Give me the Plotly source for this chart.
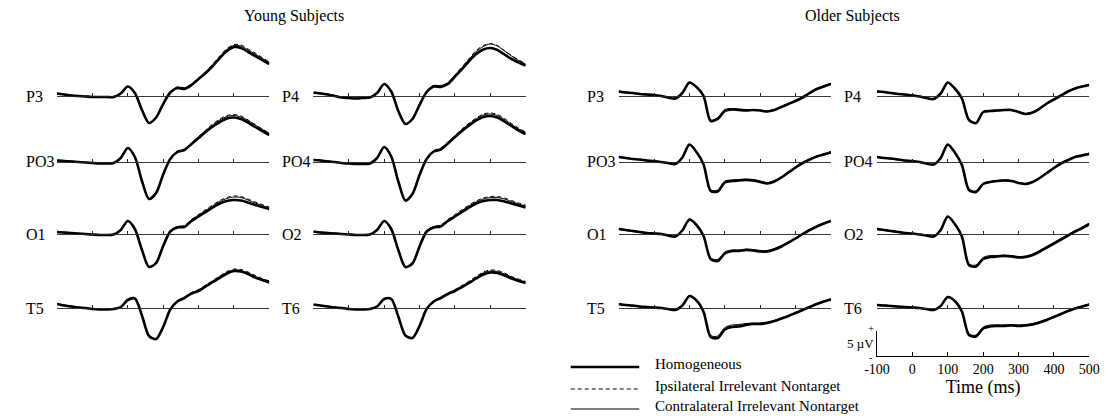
import plotly.graph_objects as go

# ---------------- data ----------------
TIME_MS = [-100, -80, -60, -40, -20, 0, 20, 40, 60, 80, 100, 120, 140, 160, 180, 200,
           220, 240, 260, 280, 300, 320, 340, 360, 380, 400, 420, 440, 460, 480, 500]
TICK_MS = [0, 100, 200, 300, 400, 500]
CAL_TICKS = [-100, 0, 100, 200, 300, 400, 500]
CAL_TICK_LABELS = ["-100", "0", "100", "200", "300", "400", "500"]
CONDITIONS = ["Homogeneous", "Ipsilateral Irrelevant Nontarget", "Contralateral Irrelevant Nontarget"]
GROUPS = ["Young Subjects", "Older Subjects"]
LEFT_CHANNELS = ["P3", "PO3", "O1", "T5"]
RIGHT_CHANNELS = ["P4", "PO4", "O2", "T6"]

# Young subjects (µV)
Y_P3_HOM = [0.5,0.3,0.1,0.0,-0.1,-0.2,-0.2,-0.2,-0.2,0.5,1.9,0.6,-2.8,-5.4,-4.3,-1.6,0.7,1.6,1.4,2.2,3.4,4.6,6.0,7.6,9.0,9.8,9.6,8.8,8.0,7.2,6.4]
Y_P3_IPSI = [0.4,0.2,0.1,0.1,0.0,-0.1,-0.2,-0.1,-0.1,0.6,2.0,0.6,-2.7,-5.3,-4.2,-1.5,0.9,1.8,1.7,2.4,3.6,4.9,6.4,8.0,9.5,10.3,10.2,9.4,8.6,7.7,6.8]
Y_P3_CONTRA = [0.6,0.4,0.2,0.0,-0.1,-0.2,-0.3,-0.2,-0.2,0.5,1.8,0.5,-2.9,-5.5,-4.4,-1.6,0.8,1.8,1.6,2.3,3.5,4.8,6.2,7.8,9.3,10.1,10.0,9.2,8.4,7.5,6.7]

Y_P4_HOM = [0.7,0.5,0.3,0.0,-0.3,-0.4,-0.5,-0.4,-0.3,0.6,2.4,0.9,-3.0,-5.6,-4.6,-1.8,0.8,1.9,1.8,2.4,3.9,5.4,7.0,8.4,9.3,9.6,9.2,8.3,7.4,6.7,6.1]
Y_P4_IPSI = [0.6,0.5,0.3,0.1,-0.2,-0.4,-0.4,-0.3,-0.3,0.7,2.5,0.9,-2.9,-5.5,-4.5,-1.6,1.0,2.1,2.0,2.7,4.2,5.8,7.5,9.1,10.1,10.5,10.1,9.1,8.1,7.2,6.5]
Y_P4_CONTRA = [0.7,0.6,0.4,0.1,-0.2,-0.3,-0.5,-0.4,-0.2,0.6,2.3,0.8,-3.1,-5.7,-4.6,-1.7,0.9,2.1,2.1,2.6,4.1,5.6,7.3,8.9,9.9,10.4,10.0,9.0,8.0,7.1,6.4]

Y_PO3_HOM = [0.3,0.2,0.1,0.0,-0.1,-0.2,-0.3,-0.3,-0.2,0.8,2.8,1.0,-3.8,-7.4,-6.2,-2.5,0.6,2.0,2.4,3.6,4.8,6.0,7.1,8.0,8.7,8.9,8.6,7.9,7.0,6.2,5.4]
Y_PO3_IPSI = [0.3,0.2,0.2,0.1,0.0,-0.1,-0.2,-0.2,-0.1,0.9,2.9,1.1,-3.7,-7.3,-6.0,-2.3,0.8,2.2,2.6,3.8,5.1,6.4,7.6,8.6,9.3,9.5,9.2,8.4,7.5,6.6,5.8]
Y_PO3_CONTRA = [0.4,0.3,0.1,0.0,-0.1,-0.2,-0.3,-0.2,-0.2,0.8,2.7,0.9,-3.9,-7.5,-6.1,-2.4,0.7,2.2,2.5,3.7,5.0,6.3,7.4,8.4,9.1,9.3,9.0,8.3,7.4,6.5,5.7]

Y_PO4_HOM = [0.4,0.3,0.1,0.0,-0.2,-0.3,-0.4,-0.4,-0.3,0.8,3.0,1.1,-3.9,-7.7,-6.4,-2.6,0.6,2.1,2.5,3.7,5.0,6.2,7.3,8.3,9.0,9.2,8.9,8.1,7.2,6.3,5.6]
Y_PO4_IPSI = [0.4,0.3,0.2,0.1,-0.1,-0.2,-0.3,-0.3,-0.2,0.9,3.1,1.2,-3.8,-7.6,-6.2,-2.4,0.8,2.3,2.8,4.0,5.3,6.6,7.8,8.8,9.6,9.8,9.5,8.7,7.7,6.8,6.0]
Y_PO4_CONTRA = [0.5,0.4,0.2,0.0,-0.2,-0.3,-0.4,-0.3,-0.3,0.8,2.9,1.0,-4.0,-7.8,-6.3,-2.5,0.7,2.2,2.7,3.9,5.2,6.5,7.6,8.6,9.4,9.6,9.3,8.5,7.5,6.6,5.9]

Y_O1_HOM = [0.4,0.3,0.2,0.1,0.0,-0.1,-0.2,-0.2,-0.1,0.8,2.6,1.0,-3.2,-6.6,-5.8,-2.4,0.5,1.3,1.4,2.6,3.5,4.4,5.3,6.1,6.6,6.8,6.7,6.3,5.8,5.4,5.0]
Y_O1_IPSI = [0.5,0.4,0.2,0.1,0.0,-0.1,-0.1,-0.1,0.0,0.9,2.7,1.1,-3.1,-6.5,-5.6,-2.2,0.7,1.5,1.7,2.9,3.9,4.9,5.8,6.7,7.3,7.6,7.5,7.0,6.4,5.9,5.4]
Y_O1_CONTRA = [0.3,0.2,0.1,0.0,-0.1,-0.2,-0.2,-0.2,-0.1,0.8,2.5,0.9,-3.3,-6.7,-5.7,-2.3,0.6,1.5,1.6,2.8,3.8,4.7,5.6,6.5,7.1,7.4,7.3,6.8,6.2,5.7,5.2]

Y_O2_HOM = [0.5,0.3,0.2,0.1,0.0,-0.1,-0.2,-0.2,-0.1,0.8,2.6,1.0,-3.2,-6.6,-5.9,-2.5,0.5,1.3,1.5,2.6,3.5,4.4,5.3,6.1,6.6,6.8,6.8,6.5,6.1,5.7,5.3]
Y_O2_IPSI = [0.5,0.4,0.3,0.2,0.1,0.0,-0.1,-0.1,0.0,0.9,2.7,1.1,-3.1,-6.5,-5.7,-2.3,0.7,1.5,1.8,2.9,3.9,4.9,5.8,6.6,7.2,7.5,7.5,7.2,6.7,6.2,5.8]
Y_O2_CONTRA = [0.4,0.3,0.2,0.1,0.0,-0.1,-0.2,-0.2,-0.1,0.8,2.5,0.9,-3.3,-6.7,-5.8,-2.4,0.6,1.5,1.7,2.8,3.7,4.7,5.6,6.4,7.0,7.3,7.3,7.0,6.5,6.0,5.6]

Y_T5_HOM = [0.8,0.5,0.3,0.1,0.0,-0.2,-0.3,-0.3,-0.2,0.2,1.6,1.9,-1.5,-5.6,-6.2,-3.8,-0.3,1.3,2.0,2.9,3.4,4.3,5.2,6.0,6.9,7.4,7.3,6.8,6.1,5.6,5.1]
Y_T5_IPSI = [0.7,0.5,0.3,0.1,0.0,-0.1,-0.2,-0.2,-0.1,0.3,1.8,2.1,-1.4,-5.5,-6.1,-3.7,-0.2,1.4,2.2,3.1,3.7,4.6,5.5,6.4,7.3,7.8,7.7,7.2,6.5,5.9,5.4]
Y_T5_CONTRA = [0.9,0.6,0.4,0.2,0.0,-0.2,-0.3,-0.2,-0.2,0.2,1.7,2.0,-1.6,-5.7,-6.2,-3.7,-0.2,1.4,2.1,3.0,3.6,4.5,5.4,6.3,7.1,7.6,7.5,7.0,6.3,5.8,5.3]

Y_T6_HOM = [0.7,0.5,0.3,0.1,0.0,-0.2,-0.3,-0.3,-0.2,0.3,1.8,1.8,-1.7,-5.5,-6.0,-3.6,-0.2,1.3,2.0,2.8,3.4,4.2,5.0,5.9,6.7,7.1,7.0,6.5,5.9,5.4,5.0]
Y_T6_IPSI = [0.6,0.4,0.3,0.1,0.0,-0.1,-0.2,-0.2,-0.1,0.4,2.0,2.0,-1.6,-5.4,-5.9,-3.5,-0.1,1.4,2.2,3.0,3.7,4.5,5.4,6.3,7.2,7.6,7.5,7.0,6.3,5.8,5.3]
Y_T6_CONTRA = [0.7,0.5,0.4,0.2,0.0,-0.1,-0.3,-0.3,-0.2,0.3,1.9,1.9,-1.8,-5.6,-6.0,-3.5,-0.1,1.4,2.1,2.9,3.6,4.4,5.2,6.1,7.0,7.4,7.3,6.8,6.2,5.6,5.2]

# Older subjects (µV)
O_P3_HOM = [0.9,0.7,0.6,0.4,0.3,0.2,0.0,-0.3,-0.5,0.6,2.7,1.8,0.0,-5.0,-4.6,-3.0,-2.7,-2.8,-2.9,-2.8,-2.9,-3.1,-2.8,-2.2,-1.6,-1.0,-0.3,0.6,1.4,1.9,2.4]
O_P3_IPSI = [1.0,0.8,0.6,0.4,0.3,0.1,0.0,-0.3,-0.4,0.7,2.8,1.8,-0.1,-5.1,-4.5,-2.8,-2.6,-2.7,-2.8,-2.8,-2.9,-3.0,-2.7,-2.1,-1.5,-0.8,-0.1,0.7,1.5,2.0,2.6]
O_P3_CONTRA = [0.8,0.7,0.5,0.4,0.2,0.1,-0.1,-0.3,-0.5,0.6,2.6,1.7,-0.1,-4.8,-4.3,-2.7,-2.5,-2.6,-2.7,-2.7,-2.8,-3.0,-2.7,-2.1,-1.5,-0.9,-0.2,0.7,1.5,2.1,2.5]

O_P4_HOM = [0.9,0.8,0.6,0.4,0.3,0.1,-0.1,-0.4,-0.6,0.5,2.7,1.5,-0.5,-4.8,-5.4,-3.2,-3.0,-2.9,-2.8,-2.8,-3.2,-3.6,-3.3,-2.5,-1.5,-0.7,0.1,0.9,1.5,1.9,2.2]
O_P4_IPSI = [1.0,0.8,0.6,0.5,0.3,0.2,0.0,-0.3,-0.5,0.6,2.7,1.5,-0.5,-4.9,-5.3,-3.1,-2.9,-2.8,-2.7,-2.8,-3.1,-3.5,-3.2,-2.4,-1.4,-0.6,0.2,1.0,1.6,2.0,2.4]
O_P4_CONTRA = [0.8,0.7,0.5,0.4,0.2,0.1,-0.1,-0.4,-0.6,0.5,2.6,1.4,-0.6,-4.8,-5.3,-3.1,-2.9,-2.9,-2.8,-2.9,-3.2,-3.5,-3.2,-2.4,-1.5,-0.6,0.2,1.0,1.6,2.0,2.3]

O_PO3_HOM = [1.0,0.8,0.6,0.5,0.3,0.2,0.0,-0.2,-0.4,0.9,3.5,2.0,-0.5,-5.8,-5.9,-4.1,-3.8,-3.7,-3.6,-3.7,-4.0,-4.3,-3.9,-3.1,-2.1,-1.1,-0.2,0.5,1.1,1.5,1.9]
O_PO3_IPSI = [1.1,0.9,0.7,0.5,0.3,0.1,0.0,-0.2,-0.3,1.0,3.6,2.0,-0.6,-5.9,-5.8,-4.0,-3.7,-3.6,-3.5,-3.6,-3.9,-4.2,-3.8,-3.0,-2.0,-1.0,-0.1,0.6,1.2,1.7,2.1]
O_PO3_CONTRA = [0.9,0.8,0.6,0.4,0.2,0.1,-0.1,-0.2,-0.4,0.9,3.4,1.9,-0.6,-5.6,-5.6,-3.8,-3.6,-3.5,-3.4,-3.5,-3.8,-4.1,-3.7,-2.9,-2.0,-1.0,-0.1,0.6,1.2,1.6,2.0]

O_PO4_HOM = [1.0,0.8,0.7,0.5,0.3,0.2,0.0,-0.3,-0.5,0.8,3.5,1.9,-0.6,-5.6,-6.0,-4.4,-4.0,-3.8,-3.7,-3.8,-4.2,-4.4,-4.0,-3.2,-2.2,-1.2,-0.3,0.4,1.0,1.3,1.6]
O_PO4_IPSI = [1.1,0.9,0.7,0.5,0.3,0.1,0.0,-0.2,-0.4,0.9,3.6,1.9,-0.6,-5.7,-5.9,-4.3,-3.9,-3.7,-3.6,-3.7,-4.1,-4.3,-3.9,-3.1,-2.1,-1.1,-0.2,0.5,1.1,1.5,1.8]
O_PO4_CONTRA = [0.9,0.8,0.6,0.4,0.2,0.1,-0.1,-0.3,-0.5,0.8,3.4,1.8,-0.7,-5.5,-5.8,-4.2,-3.9,-3.7,-3.6,-3.7,-4.1,-4.3,-3.9,-3.1,-2.1,-1.1,-0.2,0.5,1.1,1.4,1.7]

O_O1_HOM = [1.0,0.8,0.6,0.4,0.2,0.1,0.0,-0.3,-0.5,0.7,2.9,1.8,-0.4,-5.0,-5.4,-3.9,-3.4,-3.4,-3.2,-3.3,-3.5,-3.5,-3.1,-2.5,-1.7,-0.9,0.0,0.8,1.5,2.1,2.6]
O_O1_IPSI = [1.1,0.9,0.7,0.5,0.3,0.1,0.0,-0.2,-0.4,0.8,3.0,1.8,-0.5,-5.1,-5.3,-3.8,-3.3,-3.3,-3.1,-3.2,-3.4,-3.4,-3.0,-2.4,-1.6,-0.8,0.1,0.9,1.6,2.2,2.7]
O_O1_CONTRA = [0.9,0.7,0.5,0.3,0.1,0.0,-0.1,-0.3,-0.5,0.7,2.8,1.7,-0.5,-4.8,-5.1,-3.6,-3.2,-3.2,-3.0,-3.1,-3.3,-3.3,-2.9,-2.3,-1.6,-0.8,0.1,0.9,1.6,2.2,2.6]

O_O2_HOM = [1.0,0.8,0.6,0.4,0.2,0.1,-0.1,-0.3,-0.5,0.8,3.5,2.0,-0.5,-6.2,-6.5,-5.0,-4.6,-4.5,-4.4,-4.5,-4.7,-4.6,-4.2,-3.5,-2.7,-1.9,-1.1,-0.3,0.5,1.2,2.0]
O_O2_IPSI = [1.1,0.9,0.7,0.5,0.3,0.1,0.0,-0.2,-0.4,0.9,3.6,2.0,-0.6,-6.3,-6.4,-4.9,-4.5,-4.4,-4.3,-4.4,-4.6,-4.5,-4.1,-3.4,-2.6,-1.8,-1.0,-0.2,0.6,1.3,2.1]
O_O2_CONTRA = [0.9,0.7,0.5,0.3,0.1,0.0,-0.1,-0.3,-0.5,0.8,3.4,1.9,-0.6,-6.0,-6.2,-4.7,-4.3,-4.3,-4.2,-4.3,-4.5,-4.4,-4.0,-3.3,-2.5,-1.7,-0.9,-0.1,0.6,1.3,2.0]

O_T5_HOM = [0.8,0.6,0.5,0.3,0.2,0.1,0.0,-0.2,-0.4,0.5,2.4,1.5,-0.8,-5.8,-6.0,-4.3,-3.8,-3.7,-3.4,-3.2,-3.2,-3.0,-2.6,-2.1,-1.6,-1.0,-0.4,0.2,0.8,1.3,1.7]
O_T5_IPSI = [0.9,0.7,0.5,0.3,0.2,0.1,0.0,-0.1,-0.3,0.6,2.5,1.5,-0.9,-5.9,-5.9,-4.1,-3.6,-3.5,-3.3,-3.1,-3.1,-2.9,-2.5,-2.0,-1.5,-0.9,-0.3,0.3,0.9,1.4,1.8]
O_T5_CONTRA = [0.7,0.5,0.4,0.2,0.1,0.0,-0.1,-0.2,-0.4,0.5,2.3,1.4,-0.9,-5.5,-5.6,-3.9,-3.4,-3.3,-3.1,-3.0,-3.0,-2.8,-2.5,-2.0,-1.5,-0.9,-0.3,0.3,0.9,1.4,1.8]

O_T6_HOM = [0.6,0.5,0.4,0.3,0.2,0.1,0.0,-0.2,-0.4,0.4,2.2,1.4,-0.7,-5.4,-5.7,-4.1,-3.7,-3.6,-3.6,-3.5,-3.6,-3.5,-3.3,-2.9,-2.4,-1.8,-1.2,-0.6,-0.1,0.3,0.7]
O_T6_IPSI = [0.7,0.6,0.5,0.3,0.2,0.1,0.0,-0.1,-0.3,0.5,2.3,1.4,-0.8,-5.5,-5.6,-4.0,-3.5,-3.4,-3.4,-3.4,-3.5,-3.4,-3.2,-2.8,-2.3,-1.7,-1.1,-0.5,0.0,0.4,0.8]
O_T6_CONTRA = [0.5,0.4,0.3,0.2,0.1,0.0,-0.1,-0.2,-0.4,0.4,2.1,1.3,-0.8,-5.2,-5.4,-3.8,-3.4,-3.4,-3.4,-3.3,-3.4,-3.3,-3.1,-2.7,-2.2,-1.7,-1.1,-0.5,0.0,0.4,0.8]

CAL_UV = [0, 5]

# ---------------- layout (pixels) ----------------
W, H = 1114, 416
COL_X0 = [45, 307, 619, 883]       # left edge (-100 ms) of each column of panels
PANEL_W = 217                       # width for -100..500 ms
ROW_Y = [96, 162, 234, 308]         # baseline rows
PX_PER_UV = 5.0
HALF_H = 75                         # half height of each panel in px
LABEL_X = [11, 273, 585, 847]
TITLE_X = [287, 858]
TITLE_Y = 16
FONT = "Liberation Serif"

def px(x):
    return x / W

def py(y):
    return 1 - y / H

# assemble panel list from the named arrays
columns = [
    [("P3", Y_P3_HOM, Y_P3_IPSI, Y_P3_CONTRA), ("PO3", Y_PO3_HOM, Y_PO3_IPSI, Y_PO3_CONTRA),
     ("O1", Y_O1_HOM, Y_O1_IPSI, Y_O1_CONTRA), ("T5", Y_T5_HOM, Y_T5_IPSI, Y_T5_CONTRA)],
    [("P4", Y_P4_HOM, Y_P4_IPSI, Y_P4_CONTRA), ("PO4", Y_PO4_HOM, Y_PO4_IPSI, Y_PO4_CONTRA),
     ("O2", Y_O2_HOM, Y_O2_IPSI, Y_O2_CONTRA), ("T6", Y_T6_HOM, Y_T6_IPSI, Y_T6_CONTRA)],
    [("P3", O_P3_HOM, O_P3_IPSI, O_P3_CONTRA), ("PO3", O_PO3_HOM, O_PO3_IPSI, O_PO3_CONTRA),
     ("O1", O_O1_HOM, O_O1_IPSI, O_O1_CONTRA), ("T5", O_T5_HOM, O_T5_IPSI, O_T5_CONTRA)],
    [("P4", O_P4_HOM, O_P4_IPSI, O_P4_CONTRA), ("PO4", O_PO4_HOM, O_PO4_IPSI, O_PO4_CONTRA),
     ("O2", O_O2_HOM, O_O2_IPSI, O_O2_CONTRA), ("T6", O_T6_HOM, O_T6_IPSI, O_T6_CONTRA)],
]

STYLES = [
    dict(color="black", width=2.6, dash="solid"),
    dict(color="black", width=1.0, dash="4px,3px"),
    dict(color="black", width=1.0, dash="solid"),
]

fig = go.Figure()
layout = dict(
    width=W, height=H, autosize=False,
    margin=dict(l=0, r=0, t=0, b=0),
    paper_bgcolor="white", plot_bgcolor="rgba(0,0,0,0)",
    showlegend=False,
    font=dict(family=FONT, color="black", size=14),
)
annotations = []
shapes = []

half_uv = HALF_H / PX_PER_UV
n = 0
for ci, col in enumerate(columns):
    x0 = COL_X0[ci]
    for ri, (label, hom, ipsi, contra) in enumerate(col):
        n += 1
        yb = ROW_Y[ri]
        layout[f"xaxis{n}"] = dict(
            domain=[px(x0), px(x0 + PANEL_W)], range=[-100, 500],
            anchor="free", position=py(yb),
            showline=True, linecolor="#222222", linewidth=0.9,
            ticks="inside", ticklen=3, tickwidth=1, tickcolor="#222222",
            tickvals=TICK_MS, showticklabels=False,
            showgrid=False, zeroline=False, fixedrange=True,
        )
        layout[f"yaxis{n}"] = dict(
            domain=[py(yb + HALF_H), py(yb - HALF_H)], range=[-half_uv, half_uv],
            anchor=f"x{n}", visible=False, showgrid=False, zeroline=False, fixedrange=True,
        )
        for series, cond, st in zip((hom, ipsi, contra), CONDITIONS, STYLES):
            fig.add_trace(go.Scatter(
                x=TIME_MS, y=series, mode="lines", name=cond,
                line=dict(color=st["color"], width=st["width"], dash=st["dash"], shape="spline", smoothing=0.8),
                xaxis=f"x{n}", yaxis=f"y{n}", hoverinfo="skip",
            ))
        annotations.append(dict(
            x=px(LABEL_X[ci]), y=py(yb), xref="paper", yref="paper",
            text=label, showarrow=False, xanchor="left", yanchor="middle",
            font=dict(family=FONT, size=16, color="black"),
        ))

# calibration axes (bottom-right)
n += 1
CAL_Y_BOTTOM = 356
layout[f"xaxis{n}"] = dict(
    domain=[px(COL_X0[3]), px(COL_X0[3] + PANEL_W)], range=[-100, 500],
    anchor=f"y{n}", side="bottom",
    showline=True, linecolor="black", linewidth=1,
    ticks="inside", ticklen=4, tickwidth=1, tickcolor="black",
    tickvals=CAL_TICKS, ticktext=CAL_TICK_LABELS,
    tickfont=dict(family=FONT, size=14, color="black"),
    title=dict(text="Time (ms)", font=dict(family=FONT, size=18, color="black"), standoff=0),
    showgrid=False, zeroline=False, fixedrange=True,
)
layout[f"yaxis{n}"] = dict(
    domain=[py(CAL_Y_BOTTOM), py(CAL_Y_BOTTOM - CAL_UV[1] * PX_PER_UV)], range=CAL_UV,
    anchor=f"x{n}", showline=True, linecolor="black", linewidth=1,
    ticks="", showticklabels=False, showgrid=False, zeroline=False, fixedrange=True,
)
fig.add_trace(go.Scatter(x=[None], y=[None], xaxis=f"x{n}", yaxis=f"y{n}", showlegend=False))

cal_x = COL_X0[3]
annotations += [
    dict(x=px(cal_x - 1), y=py(CAL_Y_BOTTOM - 28), xref="paper", yref="paper", text="+",
         showarrow=False, xanchor="right", yanchor="middle", font=dict(family=FONT, size=11)),
    dict(x=px(cal_x - 1), y=py(CAL_Y_BOTTOM - 13), xref="paper", yref="paper", text="5 µV",
         showarrow=False, xanchor="right", yanchor="middle", font=dict(family=FONT, size=13)),
    dict(x=px(cal_x - 3), y=py(CAL_Y_BOTTOM + 1), xref="paper", yref="paper", text="-",
         showarrow=False, xanchor="right", yanchor="middle", font=dict(family=FONT, size=10)),
]

# group titles
for gi, title in enumerate(GROUPS):
    annotations.append(dict(
        x=px(TITLE_X[gi]), y=py(TITLE_Y), xref="paper", yref="paper", text=title,
        showarrow=False, xanchor="center", yanchor="middle",
        font=dict(family=FONT, size=16, color="black"),
    ))

# legend (drawn manually)
LEG_X0, LEG_X1, LEG_TEXT_X = 570, 640, 654
LEG_Y = [364, 386, 406]
for cond, st, ly in zip(CONDITIONS, STYLES, LEG_Y):
    shapes.append(dict(
        type="line", xref="paper", yref="paper",
        x0=px(LEG_X0), x1=px(LEG_X1), y0=py(ly + 3), y1=py(ly + 3),
        line=dict(color="black", width=st["width"], dash=st["dash"]),
    ))
    annotations.append(dict(
        x=px(LEG_TEXT_X), y=py(ly), xref="paper", yref="paper", text=cond,
        showarrow=False, xanchor="left", yanchor="middle",
        font=dict(family=FONT, size=15, color="black"),
    ))

layout["annotations"] = annotations
layout["shapes"] = shapes
fig.update_layout(**layout)
fig.write_html(
    "out.html",
    config={"displayModeBar": False, "staticPlot": True},
    post_script="document.body.style.margin='0';document.body.style.overflow='hidden';",
)
